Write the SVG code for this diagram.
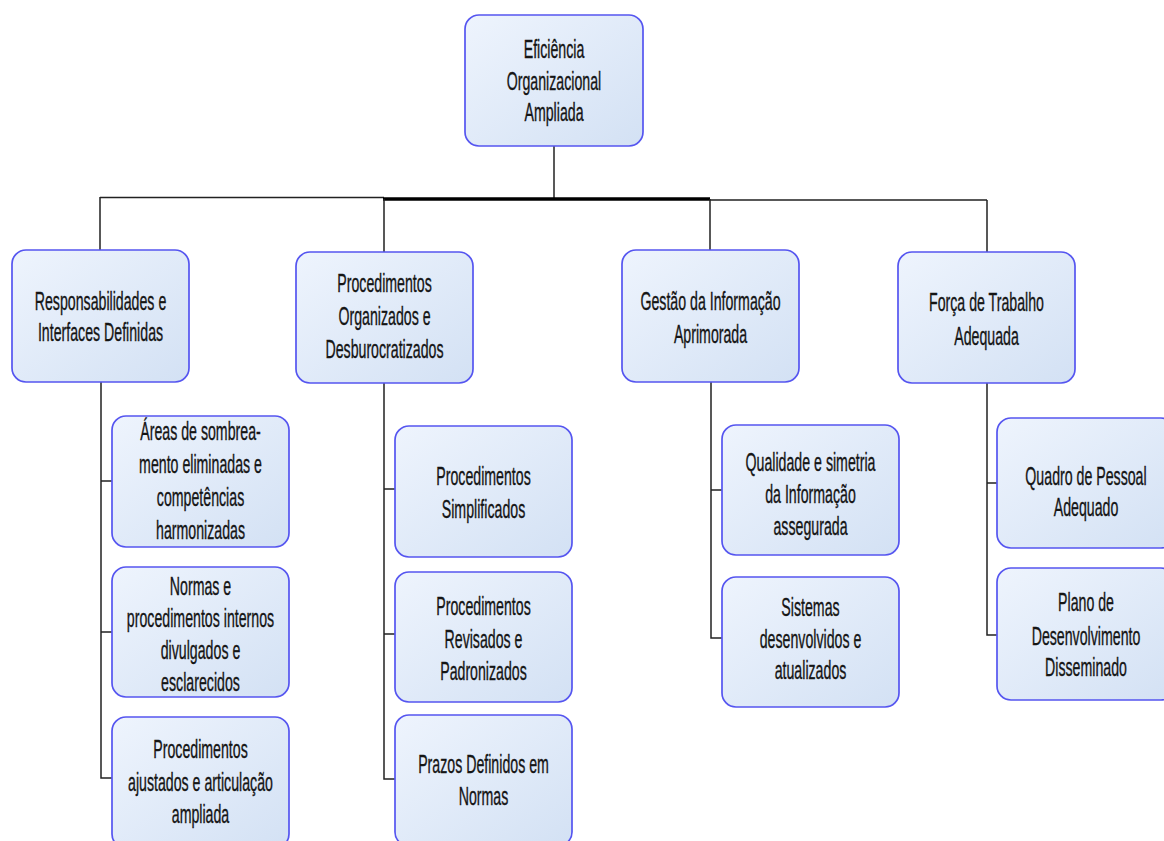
<svg xmlns="http://www.w3.org/2000/svg" width="1164" height="841" viewBox="0 0 1164 841">
<style>
.box{fill:url(#g);stroke:#5555f0;stroke-width:1.7}
.t{font-family:"Liberation Sans",Arial,sans-serif;font-size:25px;fill:#151515;stroke:#151515;stroke-width:0.35;text-anchor:middle}
.c{stroke:#222;stroke-width:1.5;fill:none}
</style>
<defs>
<linearGradient id="g" x1="0" y1="0" x2="1" y2="1">
<stop offset="0" stop-color="#eef4fd"/>
<stop offset="1" stop-color="#d3e1f4"/>
</linearGradient>
</defs>
<g id="connectors">
<path class="c" d="M554 146V199"/>
<path class="c" d="M100 197.5H384M710 200H987"/>
<path d="M383 199H710" stroke="#000" stroke-width="3.5"/>
<path class="c" d="M100 197V250M384 199V252M710 199V250M987 200V252"/>
<path class="c" d="M101 382V778H112M101 481H112M101 632H112"/>
<path class="c" d="M384 383V779H395M384 489H395M384 634H395"/>
<path class="c" d="M711 382V638H722M711 490H722"/>
<path class="c" d="M987 383V635H997M987 483H997"/>
</g>
<g id="n0"><rect class="box" x="465" y="15" width="178" height="131" rx="14"/>
<text class="t" transform="translate(554,0) scale(0.567,1)"><tspan x="0" y="58.5">Eficiência</tspan><tspan x="0" y="90.5">Organizacional</tspan><tspan x="0" y="121.5">Ampliada</tspan></text></g>
<g id="n1"><rect class="box" x="12" y="250" width="177" height="132" rx="14"/>
<text class="t" transform="translate(100.5,0) scale(0.567,1)"><tspan x="0" y="310.5">Responsabilidades e</tspan><tspan x="0" y="341.5">Interfaces Definidas</tspan></text></g>
<g id="n2"><rect class="box" x="296" y="252" width="177" height="131" rx="14"/>
<text class="t" transform="translate(384.5,0) scale(0.567,1)"><tspan x="0" y="292">Procedimentos</tspan><tspan x="0" y="325">Organizados e</tspan><tspan x="0" y="358">Desburocratizados</tspan></text></g>
<g id="n3"><rect class="box" x="622" y="250" width="177" height="132" rx="14"/>
<text class="t" transform="translate(710.5,0) scale(0.567,1)"><tspan x="0" y="310">Gestão da Informação</tspan><tspan x="0" y="343">Aprimorada</tspan></text></g>
<g id="n4"><rect class="box" x="898" y="252" width="177" height="131" rx="14"/>
<text class="t" transform="translate(986.5,0) scale(0.567,1)"><tspan x="0" y="311">Força de Trabalho</tspan><tspan x="0" y="345">Adequada</tspan></text></g>
<g id="n11"><rect class="box" x="112" y="416" width="177" height="131" rx="14"/>
<text class="t" transform="translate(200.5,0) scale(0.567,1)"><tspan x="0" y="440.5">Áreas de sombrea-</tspan><tspan x="0" y="473.5">mento eliminadas e</tspan><tspan x="0" y="506.5">competências</tspan><tspan x="0" y="539.5">harmonizadas</tspan></text></g>
<g id="n12"><rect class="box" x="112" y="567" width="177" height="130" rx="14"/>
<text class="t" transform="translate(200.5,0) scale(0.567,1)"><tspan x="0" y="595.5">Normas e</tspan><tspan x="0" y="627.5">procedimentos internos</tspan><tspan x="0" y="659.5">divulgados e</tspan><tspan x="0" y="691.5">esclarecidos</tspan></text></g>
<g id="n13"><rect class="box" x="112" y="717" width="177" height="131" rx="14"/>
<text class="t" transform="translate(200.5,0) scale(0.567,1)"><tspan x="0" y="758.5">Procedimentos</tspan><tspan x="0" y="791.5">ajustados e articulação</tspan><tspan x="0" y="823.5">ampliada</tspan></text></g>
<g id="n21"><rect class="box" x="395" y="426" width="177" height="131" rx="14"/>
<text class="t" transform="translate(483.5,0) scale(0.567,1)"><tspan x="0" y="485.5">Procedimentos</tspan><tspan x="0" y="518.5">Simplificados</tspan></text></g>
<g id="n22"><rect class="box" x="395" y="572" width="177" height="130" rx="14"/>
<text class="t" transform="translate(483.5,0) scale(0.567,1)"><tspan x="0" y="615">Procedimentos</tspan><tspan x="0" y="648">Revisados e</tspan><tspan x="0" y="680">Padronizados</tspan></text></g>
<g id="n23"><rect class="box" x="395" y="715" width="177" height="131" rx="14"/>
<text class="t" transform="translate(483.5,0) scale(0.567,1)"><tspan x="0" y="773">Prazos Definidos em</tspan><tspan x="0" y="805">Normas</tspan></text></g>
<g id="n31"><rect class="box" x="722" y="425" width="177" height="130" rx="14"/>
<text class="t" transform="translate(810.5,0) scale(0.567,1)"><tspan x="0" y="471">Qualidade e simetria</tspan><tspan x="0" y="503">da Informação</tspan><tspan x="0" y="535">assegurada</tspan></text></g>
<g id="n32"><rect class="box" x="722" y="577" width="177" height="130" rx="14"/>
<text class="t" transform="translate(810.5,0) scale(0.567,1)"><tspan x="0" y="616">Sistemas</tspan><tspan x="0" y="648">desenvolvidos e</tspan><tspan x="0" y="679">atualizados</tspan></text></g>
<g id="n41"><rect class="box" x="997" y="418" width="178" height="130" rx="14"/>
<text class="t" transform="translate(1086,0) scale(0.567,1)"><tspan x="0" y="485">Quadro de Pessoal</tspan><tspan x="0" y="516">Adequado</tspan></text></g>
<g id="n42"><rect class="box" x="997" y="568" width="178" height="132" rx="14"/>
<text class="t" transform="translate(1086,0) scale(0.567,1)"><tspan x="0" y="611">Plano de</tspan><tspan x="0" y="645">Desenvolvimento</tspan><tspan x="0" y="676">Disseminado</tspan></text></g>
</svg>
